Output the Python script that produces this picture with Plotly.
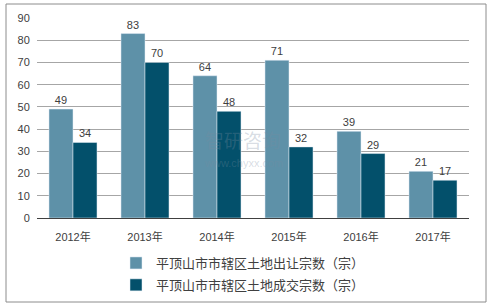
import plotly.graph_objects as go

years = ["2012年", "2013年", "2014年", "2015年", "2016年", "2017年"]
transfer = [49, 83, 64, 71, 39, 21]
deal = [34, 70, 48, 32, 29, 17]
names = ["平顶山市市辖区土地出让宗数（宗）", "平顶山市市辖区土地成交宗数（宗）"]
colors = ["#5E91A8", "#03506B"]

FONT = "Liberation Sans, Noto Sans CJK SC, sans-serif"

fig = go.Figure()
for i, (vals, nm) in enumerate(zip([transfer, deal], names)):
    fig.add_trace(go.Bar(
        x=years, y=vals, name=nm, marker_color=colors[i],
        text=vals, textposition="outside", cliponaxis=False,
        textfont=dict(size=11, color="#404040", family=FONT),
        legendgroup=f"g{i}",
    ))

L, R, T, B = 37, 24, 18, 90
W, H = 493, 308
pw, ph = W - L - R, H - T - B

def px(x):
    return (x - L) / pw

def py(y):
    return (H - B - y) / ph

fig.update_layout(
    width=W, height=H,
    margin=dict(l=L, r=R, t=T, b=B, autoexpand=False),
    paper_bgcolor="white", plot_bgcolor="white",
    barmode="group", bargap=0.333, bargroupgap=0,
    font=dict(family=FONT, size=11, color="#404040"),
    xaxis=dict(showline=True, linecolor="#404040", linewidth=1, automargin=False,
               ticks="outside", ticklen=9, tickcolor="rgba(0,0,0,0)",
               tickfont=dict(size=11, color="#404040")),
    yaxis=dict(range=[0, 90], dtick=10, showgrid=True, gridcolor="#A6A6A6",
               gridwidth=1, zeroline=False, ticks="outside", ticklen=4,
               tickcolor="rgba(0,0,0,0)", automargin=False,
               tickfont=dict(size=11, color="#404040")),
    legend=dict(orientation="v", x=px(116), xanchor="left", y=py(248), yanchor="top",
                font=dict(size=13, color="#404040", family=FONT),
                traceorder="grouped", tracegroupgap=2, itemwidth=30),
    showlegend=True,
    shapes=[dict(type="rect", xref="paper", yref="paper",
                 x0=px(6), x1=px(486), y0=py(302), y1=py(4),
                 line=dict(color="#8C8C8C", width=1), fillcolor="rgba(0,0,0,0)",
                 layer="below")],
    annotations=[
        dict(text="智研咨询", x=px(243), y=py(141), xref="paper", yref="paper",
             showarrow=False, font=dict(size=19, color="rgba(120,140,160,0.3)", family=FONT)),
        dict(text="www.chyxx.com", x=px(243), y=py(171), xref="paper", yref="paper",
             showarrow=False, font=dict(size=11, color="rgba(120,140,160,0.3)", family=FONT)),
    ],
)

fig.write_html("out.html")
